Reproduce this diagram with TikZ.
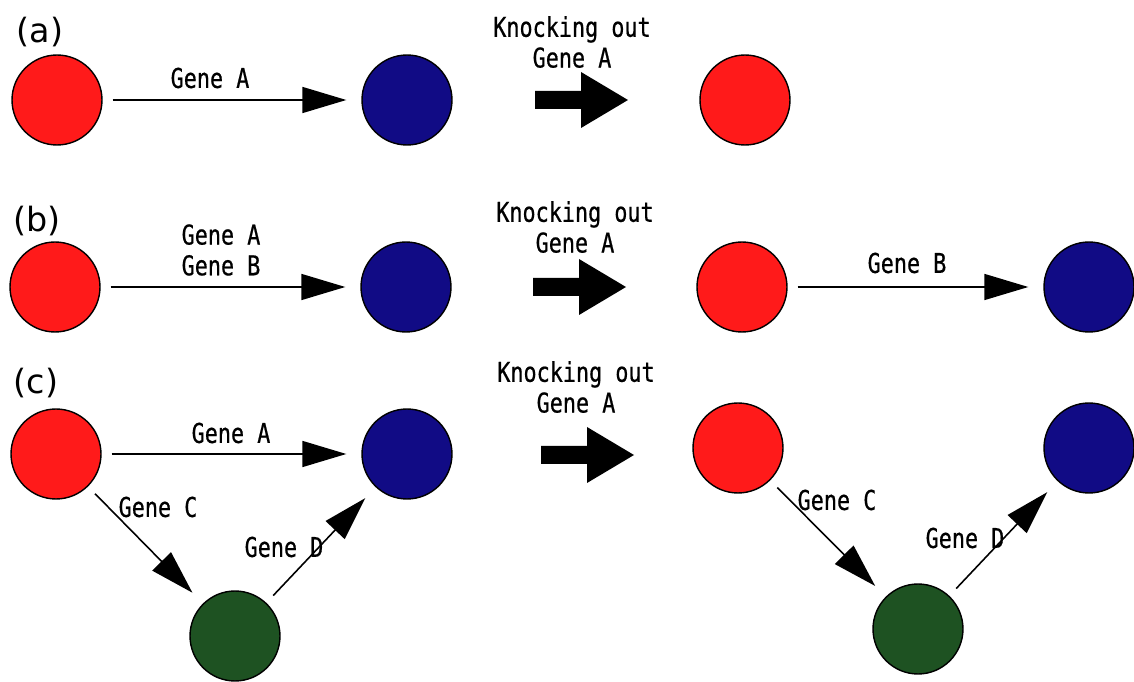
\documentclass[tikz,border=0pt]{standalone}
\usepackage{fontspec}
\usepackage{xcolor}
\usetikzlibrary{arrows.meta}
\newfontfamily\genefont[FakeStretch=0.8, FakeBold=0.6]{DejaVu Sans Mono}
\newfontfamily\panelfont{DejaVu Sans}
\definecolor{cellred}{HTML}{FF1A1A}
\definecolor{cellblue}{HTML}{110B85}
\definecolor{cellgreen}{HTML}{1E5222}
\tikzset{
  cell/.style={circle, draw=black, line width=0.8pt, minimum size=1.8cm, inner sep=0pt},
  redcell/.style={cell, fill=cellred},
  bluecell/.style={cell, fill=cellblue},
  greencell/.style={cell, fill=cellgreen},
  gene/.style={-{Triangle[length=0.88cm,width=0.52cm]}, line width=0.9pt, shorten <=0.2cm, shorten >=0.3cm},
  lbl/.style={font=\genefont\fontsize{15.5}{17.5}\selectfont, inner sep=0pt, align=center},
  panel/.style={font=\panelfont\fontsize{19}{21}\selectfont, inner sep=0pt},
  knockout/.pic={\fill (0,-9) -- (46,-9) -- (46,-28) -- (93,0) -- (46,28) -- (46,9) -- (0,9) -- cycle;}
}
\begin{document}
\begin{tikzpicture}[x=0.02cm, y=-0.02cm]
  \useasboundingbox (0,0) rectangle (1134,682);

  % (a)
  \node[panel] (pa) at (40,32) {(a)};
  \node[redcell] (a1) at (57,100) {};
  \node[bluecell] (a2) at (407,100) {};
  \node[redcell] (a3) at (745,100) {};
  \draw[gene] (a1) -- (a2);
  \node[lbl] (ga) at (210,78) {Gene A};
  \node[lbl] (ka) at (572,42) {Knocking out\\Gene A};
  \pic at (535,100) {knockout};

  % (b)
  \node[panel] (pb) at (37,221) {(b)};
  \node[redcell] (b1) at (55,287) {};
  \node[bluecell] (b2) at (406,287) {};
  \node[redcell] (b3) at (742,287) {};
  \node[bluecell] (b4) at (1089,287) {};
  \draw[gene] (b1) -- (b2);
  \draw[gene] (b3) -- (b4);
  \node[lbl] (gab) at (221,250) {Gene A\\Gene B};
  \node[lbl] (gb) at (907,263) {Gene B};
  \node[lbl] (kb) at (575,227) {Knocking out\\Gene A};
  \pic at (533,287) {knockout};

  % (c)
  \node[panel] (pc) at (36,383) {(c)};
  \node[redcell] (c1) at (56,454) {};
  \node[bluecell] (c2) at (407,454) {};
  \node[greencell] (c3) at (235,636) {};
  \node[redcell] (c4) at (738,448) {};
  \node[bluecell] (c5) at (1089,448) {};
  \node[greencell] (c6) at (918,629) {};
  \draw[gene] (c1) -- (c2);
  \draw[gene] (c1) -- (c3);
  \draw[gene] (c3) -- (c2);
  \draw[gene] (c4) -- (c6);
  \draw[gene] (c6) -- (c5);
  \node[lbl] (gca) at (231,433) {Gene A};
  \node[lbl] (gcc) at (158,507) {Gene C};
  \node[lbl] (gcd) at (284,547) {Gene D};
  \node[lbl] (gcc2) at (837,500) {Gene C};
  \node[lbl] (gcd2) at (965,538) {Gene D};
  \node[lbl] (kc) at (576,387) {Knocking out\\Gene A};
  \pic at (541,455) {knockout};
\end{tikzpicture}
\end{document}
